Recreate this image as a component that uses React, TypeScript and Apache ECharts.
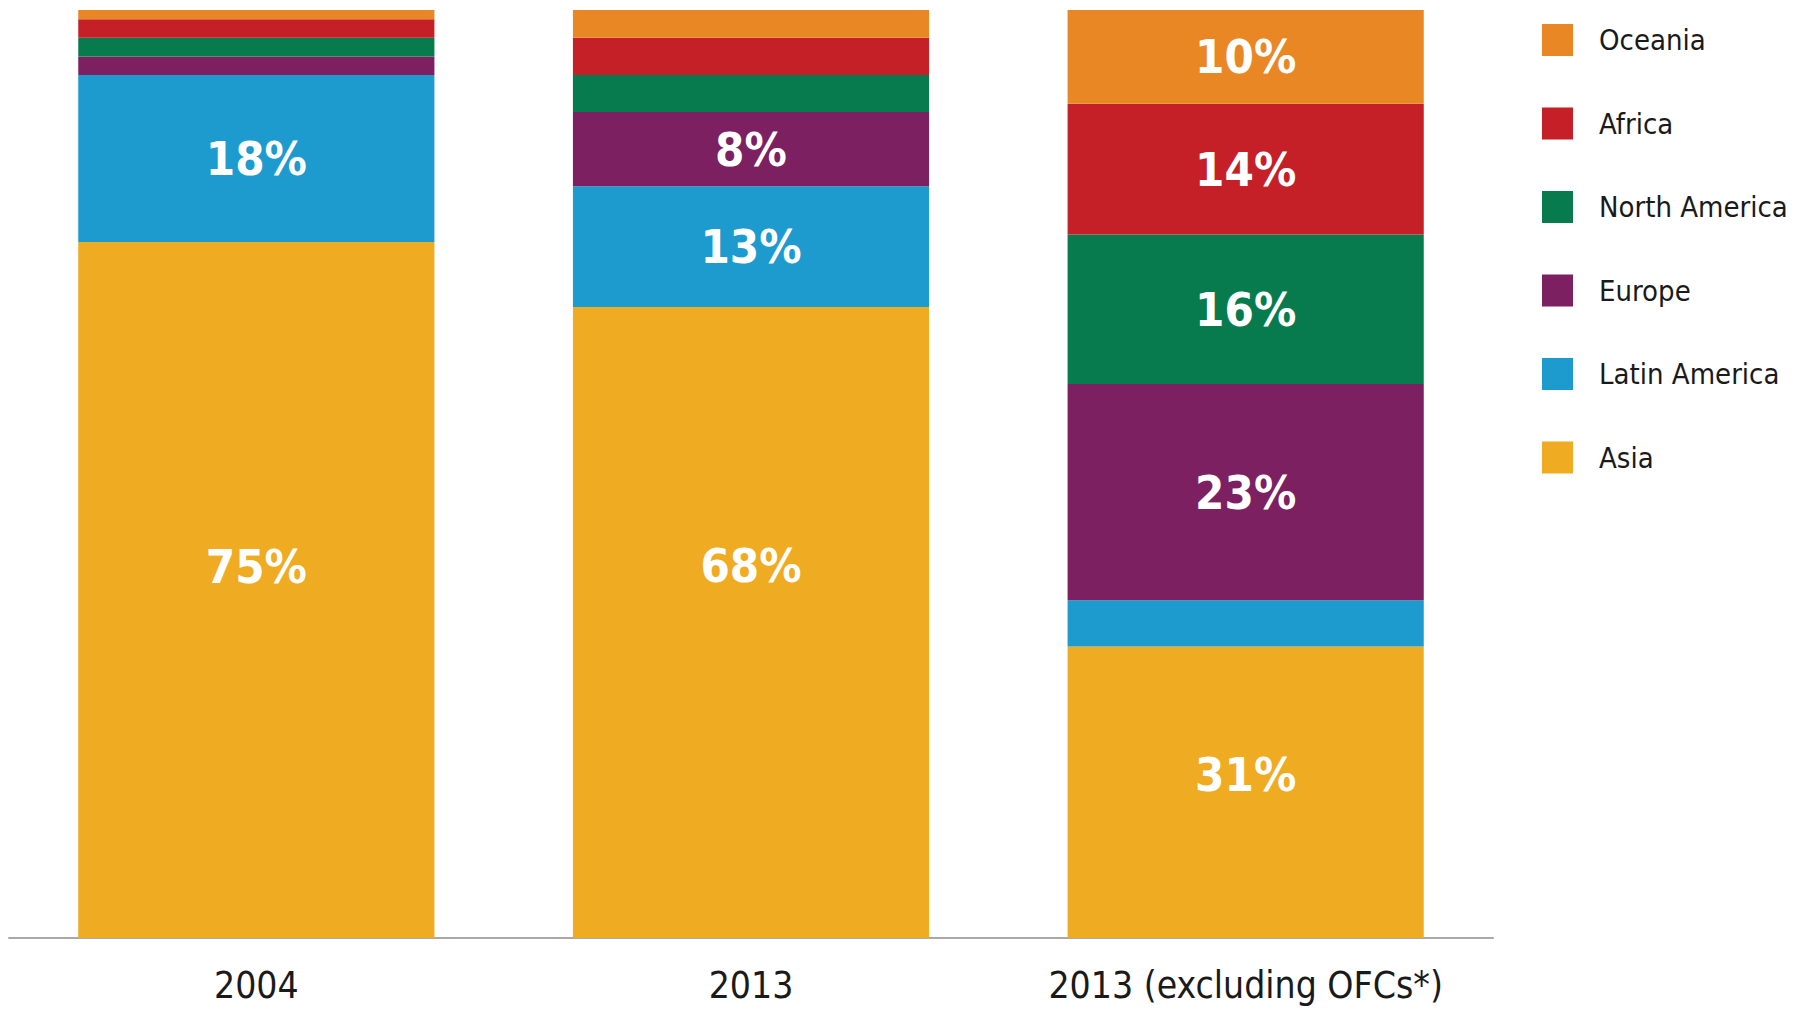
import React, { useEffect, useRef } from "react";
import * as echarts from "echarts";

const categories = ["2004", "2013", "2013 (excluding OFCs*)"];
const regions = ["Asia", "Latin America", "Europe", "North America", "Africa", "Oceania"];
const legendOrder = ["Oceania", "Africa", "North America", "Europe", "Latin America", "Asia"];

const asia = [75, 68, 31.4];
const latinAmerica = [18, 13, 5.0];
const europe = [2, 8, 23.3];
const northAmerica = [2, 4, 16.1];
const africa = [2, 4, 14.1];
const oceania = [1, 3, 10.1];

const seriesValues = [asia, latinAmerica, europe, northAmerica, africa, oceania];
const colors = ["#EFAB21", "#1D9BCF", "#7C2062", "#077B4E", "#C51F27", "#E98724"];
// vertical nudge of the Asia labels as placed in the original
const asiaLabelShift = [-24, -57, -18];

const FONT = "'DejaVu Sans Condensed', 'Liberation Sans Narrow', 'Liberation Sans', sans-serif";

export default function App() {
  const ref = useRef<HTMLDivElement>(null);
  useEffect(() => {
    document.body.style.margin = "0";
    const chart = echarts.init(ref.current!, null, { renderer: "svg" });
    const series = regions.map((name, i) => ({
      name,
      type: "bar",
      stack: "total",
      barWidth: "72%",
      itemStyle: { color: colors[i] },
      label: {
        show: true,
        position: "inside",
        color: "#ffffff",
        fontFamily: FONT,
        fontWeight: "bold",
        fontSize: 47,
        formatter: (p: any) => (p.value >= 7.5 ? Math.round(p.value) + "%" : ""),
      },
      data: seriesValues[i].map((v, j) =>
        i === 0 ? { value: v, label: { offset: [0, asiaLabelShift[j]] } } : v
      ),
    }));
    chart.setOption({
      animation: false,
      backgroundColor: "#ffffff",
      grid: { left: 9, right: 315, top: 10, bottom: 73, containLabel: false },
      legend: {
        orient: "vertical",
        left: 1537,
        top: 19,
        itemWidth: 31,
        itemHeight: 32,
        itemGap: 51.5,
        icon: "rect",
        data: legendOrder,
        textStyle: {
          fontFamily: FONT,
          fontSize: 29,
          lineHeight: 32,
          color: "#1a1a1a",
          padding: [0, 0, 0, 21],
        },
      },
      xAxis: {
        type: "category",
        data: categories,
        axisLine: { show: true, lineStyle: { color: "#A9A9A9", width: 2 } },
        axisTick: { show: false },
        axisLabel: {
          interval: 0,
          color: "#1a1a1a",
          fontFamily: FONT,
          fontSize: 37,
          lineHeight: 37,
          margin: 29,
        },
      },
      yAxis: { type: "value", min: 0, max: 100, show: false },
      series,
    });
    return () => chart.dispose();
  }, []);
  return <div ref={ref} style={{ width: 1808, height: 1011 }} />;
}
